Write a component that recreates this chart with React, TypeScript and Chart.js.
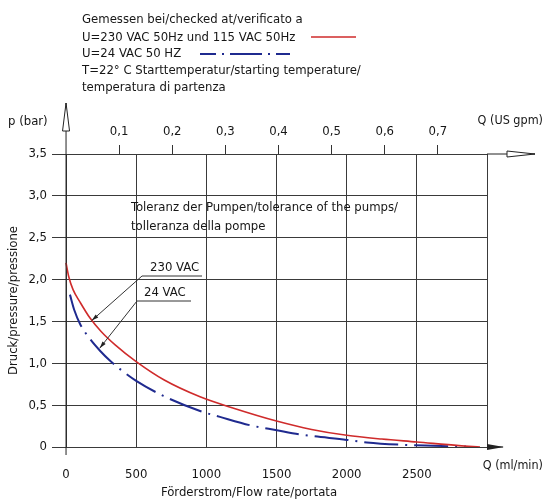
import React, { useEffect, useRef } from "react";
import { Chart, registerables } from "chart.js";

Chart.register(...registerables);

// ---- data ----
const flow230 = [0, 20, 50, 100, 171, 250, 350, 500, 700, 955, 1200, 1500, 1750, 2000, 2250, 2500, 2800, 2950];
const press230 = [2.2, 2.03, 1.88, 1.73, 1.54, 1.38, 1.22, 1.02, 0.8, 0.6, 0.46, 0.31, 0.21, 0.14, 0.095, 0.06, 0.016, 0];
const flow24 = [28, 60, 100, 171, 242, 314, 385, 500, 694, 955, 1097, 1311, 1502, 1668, 2000, 2143, 2380, 2617, 2850];
const press24 = [1.82, 1.63, 1.47, 1.29, 1.15, 1.03, 0.93, 0.79, 0.61, 0.43, 0.36, 0.26, 0.2, 0.15, 0.085, 0.055, 0.028, 0.015, 0.005];
const xTicks = [0, 500, 1000, 1500, 2000, 2500, 3000];
const yTicks = [0, 0.5, 1, 1.5, 2, 2.5, 3, 3.5];
const gpmTicks = [0.1, 0.2, 0.3, 0.4, 0.5, 0.6, 0.7];
const ML_PER_GPM = 3785.41;

const headerLines = [
  "Gemessen bei/checked at/verificato a",
  "U=230 VAC 50Hz und 115 VAC 50Hz",
  "U=24 VAC 50 HZ",
  "T=22° C Starttemperatur/starting temperature/",
  "temperatura di partenza",
];
const toleranceLines = ["Toleranz der Pumpen/tolerance of the pumps/", "tolleranza della pompe"];

const RED = "#cf2b2b";
const BLUE = "#1f2a8f";
const GRID = "#3a3a3a";
const TXT = "#161616";
const FONT = '13px "DejaVu Sans Condensed"';
const TICKFONT = { family: "DejaVu Sans Condensed", size: 13 };

const overlay = {
  id: "overlay",
  afterDraw(chart: any) {
    const ctx = chart.ctx as CanvasRenderingContext2D;
    const xs = chart.scales.x;
    const ys = chart.scales.y;
    const x0 = xs.getPixelForValue(0);
    const xEnd = xs.getPixelForValue(3000);
    const yTop = ys.getPixelForValue(3.5);
    const yBot = ys.getPixelForValue(0);
    ctx.save();
    ctx.strokeStyle = "#222";
    ctx.fillStyle = "#222";
    ctx.lineWidth = 1;
    // vertical p axis with open arrow
    ctx.beginPath();
    ctx.moveTo(x0, yBot + 8);
    ctx.lineTo(x0, yTop - 51);
    ctx.stroke();
    ctx.beginPath();
    ctx.moveTo(x0, yTop - 51);
    ctx.lineTo(x0 - 3.5, yTop - 23);
    ctx.lineTo(x0 + 3.5, yTop - 23);
    ctx.closePath();
    ctx.fillStyle = "#fff";
    ctx.fill();
    ctx.stroke();
    // top axis extension with open arrow
    ctx.beginPath();
    ctx.moveTo(xEnd, yTop);
    ctx.lineTo(xEnd + 48, yTop);
    ctx.stroke();
    ctx.beginPath();
    ctx.moveTo(xEnd + 48, yTop);
    ctx.lineTo(xEnd + 20, yTop - 3);
    ctx.lineTo(xEnd + 20, yTop + 3);
    ctx.closePath();
    ctx.fill();
    ctx.stroke();
    // bottom axis extension with filled arrow
    ctx.fillStyle = "#222";
    ctx.beginPath();
    ctx.moveTo(xEnd, yBot);
    ctx.lineTo(xEnd + 16, yBot);
    ctx.stroke();
    ctx.beginPath();
    ctx.moveTo(xEnd + 17, yBot);
    ctx.lineTo(xEnd, yBot - 3);
    ctx.lineTo(xEnd, yBot + 3);
    ctx.closePath();
    ctx.fill();

    // texts
    ctx.fillStyle = TXT;
    ctx.font = FONT;
    ctx.textBaseline = "middle";
    ctx.textAlign = "left";
    const hy = [20, 37.5, 54, 71, 88];
    headerLines.forEach((t, i) => ctx.fillText(t, 82, hy[i]));
    // legend samples
    ctx.lineWidth = 1.6;
    ctx.strokeStyle = RED;
    ctx.beginPath();
    ctx.moveTo(311, 37);
    ctx.lineTo(356, 37);
    ctx.stroke();
    ctx.strokeStyle = BLUE;
    ctx.lineWidth = 2;
    ctx.setLineDash([16, 6, 2, 6, 32, 6, 2, 6, 16]);
    ctx.beginPath();
    ctx.moveTo(200, 54);
    ctx.lineTo(290, 54);
    ctx.stroke();
    ctx.setLineDash([]);

    ctx.fillText("p (bar)", 8, 122);
    ctx.font = '12.5px "DejaVu Sans Condensed"';
    ctx.textAlign = "right";
    ctx.fillText("Q (US gpm)", 543, 121);
    ctx.fillText("Q (ml/min)", 543, 466);
    ctx.font = FONT;
    ctx.textAlign = "center";
    ctx.fillText("Förderstrom/Flow rate/portata", 249, 493);
    ctx.save();
    ctx.translate(14, (yTop + yBot) / 2);
    ctx.rotate(-Math.PI / 2);
    ctx.fillText("Druck/pressure/pressione", 0, 0);
    ctx.restore();
    ctx.textAlign = "left";
    ctx.fillText(toleranceLines[0], 131, 208);
    ctx.fillText(toleranceLines[1], 131, 227);

    // annotations
    const ann = [
      { text: "230 VAC", tx: 150, ty: 268, ux0: 142, ux1: 202, uy: 276, px: 183, py: 1.51 },
      { text: "24 VAC", tx: 144, ty: 292.5, ux0: 137, ux1: 191, uy: 301, px: 240, py: 1.18 },
    ];
    ann.forEach((a) => {
      ctx.fillStyle = TXT;
      ctx.fillText(a.text, a.tx, a.ty);
      ctx.strokeStyle = "#333";
      ctx.lineWidth = 1;
      ctx.beginPath();
      ctx.moveTo(a.ux1, a.uy);
      ctx.lineTo(a.ux0, a.uy);
      const tx = xs.getPixelForValue(a.px);
      const ty = ys.getPixelForValue(a.py);
      ctx.lineTo(tx, ty);
      ctx.stroke();
      const ang = Math.atan2(ty - a.uy, tx - a.ux0);
      ctx.fillStyle = "#222";
      ctx.beginPath();
      ctx.moveTo(tx, ty);
      ctx.lineTo(tx - 7 * Math.cos(ang) + 2 * Math.sin(ang), ty - 7 * Math.sin(ang) - 2 * Math.cos(ang));
      ctx.lineTo(tx - 7 * Math.cos(ang) - 2 * Math.sin(ang), ty - 7 * Math.sin(ang) + 2 * Math.cos(ang));
      ctx.closePath();
      ctx.fill();
    });
    ctx.restore();
  },
};

export default function App() {
  const ref = useRef<HTMLCanvasElement>(null);
  useEffect(() => {
    document.body.style.margin = "0";
    const chart = new Chart(ref.current as HTMLCanvasElement, {
      type: "line",
      data: {
        datasets: [
          {
            label: "230 VAC",
            data: flow230.map((x, i) => ({ x, y: press230[i] })),
            borderColor: RED,
            borderWidth: 1.6,
            pointRadius: 0,
            cubicInterpolationMode: "monotone",
            fill: false,
          },
          {
            label: "24 VAC",
            data: flow24.map((x, i) => ({ x, y: press24[i] })),
            borderColor: BLUE,
            borderWidth: 2,
            borderDash: [34, 7, 2, 7],
            pointRadius: 0,
            cubicInterpolationMode: "monotone",
            fill: false,
          },
        ],
      },
      options: {
        responsive: false,
        animation: false,
        layout: { padding: { top: 124, right: 58, left: 0, bottom: 0 } },
        plugins: { legend: { display: false }, tooltip: { enabled: false } },
        scales: {
          x: {
            type: "linear",
            position: "bottom",
            min: -100,
            max: 3000,
            afterBuildTicks: (s: any) => {
              s.ticks = xTicks.map((v) => ({ value: v }));
            },
            afterFit: (s: any) => {
              s.height = 55;
            },
            grid: { color: GRID, lineWidth: 1, drawTicks: false },
            border: { display: false },
            ticks: {
              color: TXT,
              font: TICKFONT,
              padding: 20,
              maxRotation: 0,
              autoSkip: false,
              callback: (v: any) => (v === 3000 ? "" : String(v)),
            },
          },
          x2: {
            type: "linear",
            position: "top",
            min: -100 / ML_PER_GPM,
            max: 3000 / ML_PER_GPM,
            afterBuildTicks: (s: any) => {
              s.ticks = gpmTicks.map((v) => ({ value: v }));
            },
            afterFit: (s: any) => {
              s.height = 30;
            },
            grid: { display: true, drawOnChartArea: false, drawTicks: true, tickLength: 9, color: "#333" },
            border: { display: false },
            ticks: {
              color: TXT,
              font: TICKFONT,
              padding: 6,
              maxRotation: 0,
              autoSkip: false,
              callback: (v: any) => Number(v).toFixed(1).replace(".", ","),
            },
          },
          y: {
            type: "linear",
            min: 0,
            max: 3.5,
            afterBuildTicks: (s: any) => {
              s.ticks = yTicks.map((v) => ({ value: v }));
            },
            afterFit: (s: any) => {
              s.width = 52;
            },
            grid: { color: GRID, lineWidth: 1, drawTicks: false },
            border: { display: false },
            ticks: {
              color: TXT,
              font: TICKFONT,
              padding: 5,
              autoSkip: false,
              callback: (v: any) => (v === 0 ? "0" : Number(v).toFixed(1).replace(".", ",")),
            },
          },
        },
      },
      plugins: [overlay],
    } as any);
    return () => chart.destroy();
  }, []);
  return (
    <div style={{ position: "fixed", left: 0, top: 0, width: 545, height: 502, background: "#fff" }}>
      <canvas ref={ref} width={545} height={502} />
    </div>
  );
}
